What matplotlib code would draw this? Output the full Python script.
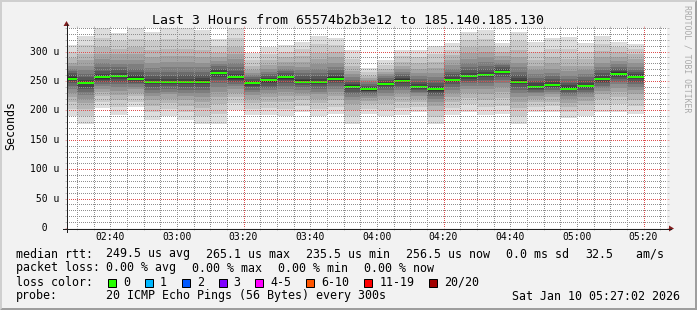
import numpy as np
import pandas as pd
import matplotlib
matplotlib.use("Agg")
import matplotlib.pyplot as plt
import matplotlib.dates as mdates
from matplotlib.ticker import MultipleLocator
from matplotlib.transforms import blended_transform_factory
from matplotlib.patches import Rectangle, Polygon
from matplotlib.lines import Line2D

# one row per 300s step: the 20 ping times (us) of that step, sorted
steps = pd.date_range("2026-01-10 02:25", periods=35, freq="5min")
pings = [
    [190, 203, 214, 223, 230, 236, 241, 246, 250, 252, 256, 260, 263, 267, 271, 275, 281, 289, 299, 311],
    [177, 191, 203, 213, 220, 226, 231, 236, 240, 244, 248, 252, 256, 262, 268, 276, 285, 296, 311, 327],
    [204, 214, 224, 231, 237, 241, 245, 249, 252, 254, 258, 262, 267, 273, 280, 287, 296, 308, 323, 340],
    [192, 205, 217, 226, 233, 239, 244, 249, 253, 256, 260, 264, 268, 273, 279, 286, 295, 305, 318, 331],
    [205, 215, 224, 230, 236, 240, 244, 247, 250, 252, 256, 260, 265, 271, 278, 286, 295, 307, 322, 340],
    [184, 197, 208, 217, 224, 230, 235, 240, 244, 246, 250, 254, 259, 265, 272, 280, 290, 302, 318, 334],
    [190, 202, 212, 220, 227, 232, 237, 241, 244, 246, 250, 254, 259, 266, 273, 282, 292, 305, 322, 340],
    [184, 197, 208, 217, 224, 230, 235, 240, 244, 246, 250, 254, 260, 266, 274, 282, 292, 305, 322, 340],
    [177, 191, 204, 214, 222, 229, 235, 240, 245, 247, 251, 255, 260, 266, 273, 281, 291, 303, 319, 337],
    [177, 194, 210, 222, 232, 240, 246, 252, 257, 261, 265, 268, 271, 275, 279, 284, 290, 298, 309, 321],
    [201, 212, 222, 230, 236, 241, 245, 249, 252, 254, 258, 262, 267, 273, 280, 287, 296, 308, 323, 340],
    [192, 203, 213, 220, 226, 231, 235, 239, 242, 244, 248, 250, 253, 256, 260, 264, 269, 275, 285, 297],
    [192, 204, 214, 222, 229, 234, 238, 242, 246, 249, 253, 255, 258, 262, 266, 271, 277, 285, 295, 308],
    [190, 203, 215, 224, 231, 237, 242, 247, 251, 254, 258, 260, 263, 267, 271, 276, 282, 290, 300, 311],
    [198, 208, 217, 224, 230, 235, 239, 243, 246, 247, 251, 254, 258, 263, 268, 274, 282, 292, 304, 317],
    [190, 202, 212, 220, 227, 232, 237, 241, 244, 246, 250, 253, 258, 264, 270, 278, 287, 298, 312, 327],
    [194, 206, 217, 225, 232, 237, 242, 246, 250, 252, 256, 259, 263, 268, 274, 281, 290, 300, 311, 323],
    [177, 190, 201, 210, 217, 223, 228, 232, 236, 238.5, 242.5, 245, 248, 252, 256, 261, 267, 275, 288, 303],
    [194, 202, 210, 216, 221, 225, 228, 231, 233, 233.5, 237.5, 240, 242, 245, 248, 251, 255, 259, 265, 272],
    [190, 201, 211, 219, 225, 230, 234, 238, 241, 243, 247, 249, 252, 255, 258, 261, 265, 270, 277, 286],
    [192, 204, 214, 222, 229, 234, 238, 242, 246, 248.5, 252.5, 255, 258, 261, 265, 270, 276, 283, 292, 303],
    [198, 206, 214, 220, 225, 229, 232, 235, 237, 238, 242, 245, 249, 253, 258, 264, 271, 280, 291, 303],
    [177, 189, 199, 207, 214, 219, 224, 228, 232, 233.5, 237.5, 241, 246, 251, 257, 264, 272, 282, 295, 310],
    [192, 204, 215, 223, 230, 235, 240, 244, 248, 250, 254, 257, 261, 266, 271, 277, 285, 294, 303, 314],
    [198, 210, 221, 229, 236, 241, 246, 250, 254, 256.5, 260.5, 264, 268, 274, 280, 288, 297, 308, 320, 334],
    [192, 206, 218, 228, 236, 242, 247, 252, 256, 258.5, 262.5, 266, 270, 276, 282, 290, 299, 310, 322, 336],
    [194, 208, 221, 231, 239, 246, 252, 257, 261, 263.5, 267.5, 270, 273, 277, 281, 286, 292, 299, 307, 315],
    [177, 191, 204, 214, 222, 229, 235, 240, 244, 247, 251, 255, 260, 266, 273, 281, 291, 303, 318, 334],
    [198, 206, 214, 220, 225, 229, 232, 235, 237, 238, 242, 246, 250, 255, 261, 268, 276, 286, 300, 317],
    [198, 207, 215, 222, 227, 231, 235, 238, 240, 241.5, 245.5, 249, 253, 258, 264, 271, 280, 291, 305, 323],
    [187, 197, 206, 213, 219, 224, 228, 231, 234, 235, 239, 243, 247, 253, 259, 267, 276, 288, 304, 324],
    [190, 200, 209, 216, 222, 227, 231, 235, 238, 239.5, 243.5, 247, 251, 256, 262, 268, 276, 287, 300, 315],
    [198, 209, 219, 227, 233, 238, 242, 246, 249, 251.5, 255.5, 259, 263, 268, 274, 281, 290, 301, 313, 327],
    [198, 211, 222, 231, 238, 244, 249, 253, 257, 260.5, 264.5, 267, 270, 274, 279, 284, 291, 299, 307, 317],
    [194, 207, 218, 227, 234, 240, 245, 249, 253, 255, 259, 262, 265, 269, 274, 280, 287, 295, 304, 313],
]

loss_labels = ["0", "1", "2", "3", "4-5", "6-10", "11-19", "20/20"]
loss_colors = ["#26ff00", "#00b8ff", "#0059ff", "#7e00ff", "#ff00ff", "#ff5500", "#ff0000", "#a10000"]

title = "Last 3 Hours from 65574b2b3e12 to 185.140.185.130"
rtt_items = ["249.5 us avg", "265.1 us max", "235.5 us min", "256.5 us now", "0.0 ms sd", "32.5", " am/s"]
loss_items = ["0.00 % avg", "0.00 % max", "0.00 % min", "0.00 % now"]
probe = "20 ICMP Echo Pings (56 Bytes) every 300s"
stamp = "Sat Jan 10 05:27:02 2026"
t_start = pd.Timestamp("2026-01-10 02:27:02")
t_end = pd.Timestamp("2026-01-10 05:27:02")
y_max = 340

# rrdtool style colours
GRID = (0.56, 0.56, 0.56, 0.5)
MGRID = (0.87, 0.31, 0.31, 0.45)
DOTS = (0.5, (1, 1))  # 1px on / 1px off, shifted onto whole pixels
MONO = "DejaVu Sans Mono"

W, H = 697, 310
fig = plt.figure(figsize=(W / 100, H / 100), dpi=100, facecolor="#f2f2f2")


def fx(px):
    return px / W


def fy(py):
    return 1 - py / H


X0, Y0, XS, YS = 67, 228, 600, 200
ax = fig.add_axes([fx(X0), fy(Y0), XS / W, YS / H])
ax.set_facecolor("white")

P = np.sort(np.array(pings, dtype=float), axis=1)
x = mdates.date2num(steps.to_pydatetime())
step_w = 5 / 1440.0
half = P.shape[1] // 2

# smoke: pair i spans ping i .. ping (n-1-i), darker towards the middle
for i in range(half):
    g = int(190 / half * (half - 1 - i)) + 50
    ax.bar(x, P[:, -1 - i] - P[:, i], bottom=P[:, i], width=step_w, align="edge",
           color="#%02x%02x%02x" % (g, g, g), linewidth=0, antialiased=False, zorder=1)

# median line, 2 px thick
med = np.median(P, axis=1)
sw = y_max / YS
ax.bar(x, 2 * sw, bottom=med - sw, width=step_w, align="edge",
       color=loss_colors[0], linewidth=0, antialiased=False, zorder=2)

xlim = (mdates.date2num(t_start.to_pydatetime()), mdates.date2num(t_end.to_pydatetime()))
ax.set_xlim(*xlim)
ax.set_ylim(0, y_max)
ax.xaxis_date()
# major grid once an hour (at :20), minor every 5 minutes, labels every 20 minutes
ax.xaxis.set_major_locator(mdates.MinuteLocator(byminute=[20]))
ax.xaxis.set_minor_locator(mdates.MinuteLocator(byminute=[m for m in range(0, 60, 5) if m != 20]))
ax.yaxis.set_major_locator(MultipleLocator(50))
ax.yaxis.set_minor_locator(MultipleLocator(10))
ax.set_axisbelow(False)
ax.grid(which="major", color=MGRID, lw=0.72, ls=DOTS)
ax.grid(which="minor", color=GRID, lw=0.72, ls=DOTS)
ax.tick_params(which="both", direction="out", length=1.44, width=0.72,
               left=True, right=True, top=True, bottom=True,
               labelleft=False, labelbottom=False)
ax.tick_params(which="major", color=MGRID)
ax.tick_params(which="minor", color=GRID)
for s in ax.spines.values():
    s.set_visible(False)

# axis lines and arrows
fig.add_artist(Line2D([fx(X0 - 4), fx(X0 + XS + 4)], [fy(Y0 + 0.5)] * 2, color="#1f1f1f", lw=0.72))
fig.add_artist(Line2D([fx(X0 - 0.5)] * 2, [fy(Y0 + 4), fy(Y0 - YS - 4)], color="#1f1f1f", lw=0.72))
fig.add_artist(Polygon([(fx(X0 + XS + 2), fy(Y0 - 2.5)), (fx(X0 + XS + 2), fy(Y0 + 3.5)),
                        (fx(X0 + XS + 7), fy(Y0 + 0.5))], closed=True, color="#801f1f", lw=0))
fig.add_artist(Polygon([(fx(X0 - 3.5), fy(Y0 - YS - 2)), (fx(X0 + 2.5), fy(Y0 - YS - 2)),
                        (fx(X0 - 0.5), fy(Y0 - YS - 7))], closed=True, color="#801f1f", lw=0))

# axis labels
tr_x = blended_transform_factory(ax.transData, fig.transFigure)
tr_y = blended_transform_factory(fig.transFigure, ax.transData)
for t in mdates.MinuteLocator(byminute=[0, 20, 40]).tick_values(*mdates.num2date(xlim)):
    if xlim[0] <= t <= xlim[1]:
        ax.text(t, fy(240), mdates.num2date(t).strftime("%H:%M"), transform=tr_x,
                ha="center", va="baseline", family=MONO, fontsize=7.05, clip_on=False)
for v in range(0, y_max + 1, 50):
    lab = "%3d u" % v if v else "%3d" % v
    ax.text(fx(29.8), v, lab, transform=tr_y, ha="left", va="center",
            family=MONO, fontsize=7.05, clip_on=False)

fig.text(0.5, fy(24), title, ha="center", va="baseline", family=MONO, fontsize=9.55)
fig.text(fx(10.3), fy(125), "Seconds", rotation=90, ha="center", va="center",
         family=MONO, fontsize=8.4)
fig.text(fx(687.5), fy(5), "RRDTOOL / TOBI OETIKER", rotation=270, ha="center", va="top",
         family=MONO, fontsize=5.9, color=(0, 0, 0, 0.3))

# legend
cw = 7.03     # character advance, px
fs = 8.41
tab = 106.3   # second legend column
gap = 15.6    # space between legend items


def legend_row(y, head, items):
    fig.text(fx(15.5), fy(y), head, va="baseline", family=MONO, fontsize=fs)
    px = tab
    for s in items:
        fig.text(fx(px), fy(y), s, va="baseline", family=MONO, fontsize=fs)
        px += len(s) * cw + gap


legend_row(257.5, "median rtt:", rtt_items)
legend_row(271.5, "packet loss:", loss_items)
fig.text(fx(15.5), fy(285.5), "loss color:", va="baseline", family=MONO, fontsize=fs)
bx = 108.3
for lab, c in zip(loss_labels, loss_colors):
    fig.add_artist(Rectangle((fx(bx), fy(287)), 8 / W, 8 / H, transform=fig.transFigure,
                             facecolor=c, edgecolor="black", lw=0.72))
    lx = bx + 15
    fig.text(fx(lx), fy(285.5), lab, va="baseline", family=MONO, fontsize=fs)
    bx = lx + (len(lab) + 2.1) * cw
legend_row(299.5, "probe:", [probe])
fig.text(fx(512.5), fy(299.5), stamp, va="baseline", family=MONO, fontsize=fs)

# 3d frame
fig.add_artist(Polygon([(0, 0), (fx(2), fy(H - 2)), (fx(2), fy(2)), (fx(W - 2), fy(2)), (1, 1), (0, 1)],
                       closed=True, color="#cfcfcf", lw=0))
fig.add_artist(Polygon([(fx(2), fy(H - 2)), (fx(W - 2), fy(H - 2)), (fx(W - 2), fy(2)), (1, 1), (1, 0), (0, 0)],
                       closed=True, color="#9e9e9e", lw=0))

fig.savefig("out.png", dpi=100, facecolor=fig.get_facecolor())
